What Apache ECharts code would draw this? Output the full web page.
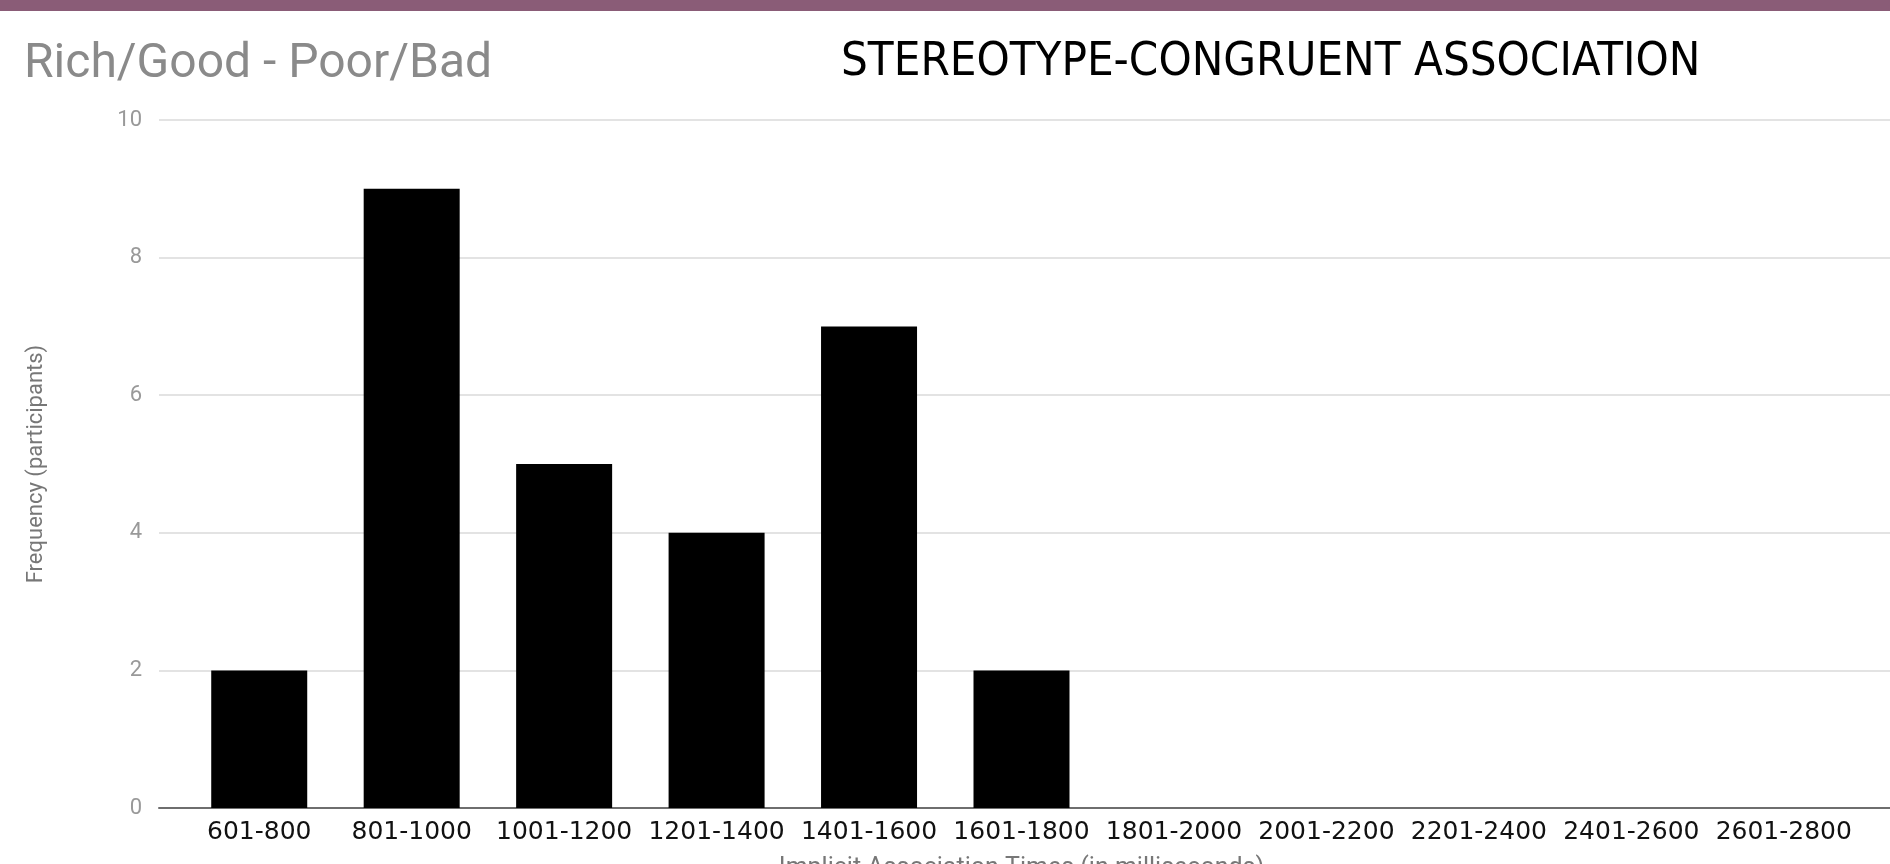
<!DOCTYPE html>
<html>
<head>
<meta charset="utf-8">
<title>Stereotype-congruent association</title>
<script src="https://cdn.jsdelivr.net/npm/echarts@6/dist/echarts.min.js"></script>
<style>
  html, body { margin: 0; padding: 0; background: #fff; }
  #chart { width: 1890px; height: 864px; }
</style>
</head>
<body>
<div id="chart"></div>
<script>
  // bins of implicit association times (ms)
  var bins = ['601-800', '801-1000', '1001-1200', '1201-1400', '1401-1600', '1601-1800',
              '1801-2000', '2001-2200', '2201-2400', '2401-2600', '2601-2800'];
  var participants = [2, 9, 5, 4, 7, 2, 0, 0, 0, 0, 0];
  var yTicks = [0, 2, 4, 6, 8, 10];

  var myChart = echarts.init(document.getElementById('chart'));
  myChart.setOption({
    backgroundColor: '#fff',
    animation: false,
    title: [{
      text: 'Rich/Good - Poor/Bad',
      left: 19, top: 36,
      textStyle: {fontFamily: 'Roboto', fontSize: 48, fontWeight: 'normal', color: '#8a8a8a'}
    }, {
      text: 'STEREOTYPE-CONGRUENT ASSOCIATION',
      left: 836, top: 34,
      textStyle: {fontFamily: '"Liberation Sans Narrow", "DejaVu Sans Condensed", "Liberation Sans"', fontSize: 47, fontWeight: 'normal', color: '#000'}
    }],
    graphic: [{
      type: 'rect',
      shape: {x: 0, y: 0, width: 1890, height: 11},
      style: {fill: '#8a5c77'}
    }],
    grid: [
      {left: 159, right: 0, top: 120, bottom: 56, outerBoundsMode: 'none'},
      {left: 183, right: 30, top: 120, bottom: 56, outerBoundsMode: 'none'}
    ],
    xAxis: [{
      gridIndex: 0, type: 'value', min: 0, max: 1,
      axisLine: {show: true, lineStyle: {color: '#6e6e6e', width: 2}},
      axisTick: {show: false}, axisLabel: {show: false}, splitLine: {show: false}
    }, {
      gridIndex: 1, type: 'category', data: bins,
      axisLine: {show: false}, axisTick: {show: false},
      axisLabel: {interval: 0, margin: 12, color: '#111', fontFamily: 'DejaVu Sans', fontSize: 25},
      name: 'Implicit Association Times (in milliseconds)',
      nameLocation: 'middle', nameGap: 48,
      nameTextStyle: {fontFamily: 'Roboto', fontSize: 25, color: '#777'}
    }],
    yAxis: [{
      gridIndex: 0, type: 'value', min: yTicks[0], max: yTicks[yTicks.length - 1], interval: 2,
      axisLine: {show: false}, axisTick: {show: false},
      axisLabel: {margin: 17, color: '#999', fontFamily: 'Roboto', fontSize: 22},
      splitLine: {lineStyle: {color: '#e3e3e3', width: 2}},
      name: 'Frequency (participants)',
      nameLocation: 'middle', nameGap: 112, nameRotate: 90,
      nameTextStyle: {fontFamily: 'Roboto', fontSize: 22, color: '#777'}
    }, {
      gridIndex: 1, type: 'value', min: 0, max: 10, show: false
    }],
    series: [{
      name: 'Frequency',
      type: 'bar',
      xAxisIndex: 1, yAxisIndex: 1,
      data: participants,
      barWidth: 96,
      itemStyle: {color: '#000'}
    }]
  });
</script>
</body>
</html>
